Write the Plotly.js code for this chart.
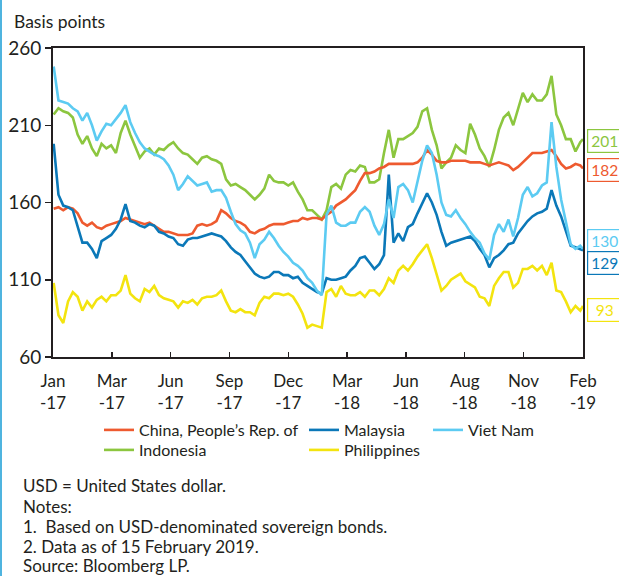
<!DOCTYPE html>
<html>
<head>
<meta charset="utf-8">
<script src="https://cdn.plot.ly/plotly-3.0.1.min.js"></script>
<style>
  html, body { margin: 0; padding: 0; background: #ffffff; }
  #chart { width: 619px; height: 576px; position: relative; }
  #edge { position: absolute; left: 0; top: 0; width: 2px; height: 576px; background: #4fb4df; z-index: 10; }
</style>
</head>
<body>
<div id="chart"></div>
<div id="edge"></div>
<script>
// ---------- data (weekly readings, basis points) ----------
const dates = [
"2017-01-02","2017-01-09","2017-01-16","2017-01-23","2017-01-30",
"2017-02-06","2017-02-13","2017-02-20","2017-02-27",
"2017-03-06","2017-03-13","2017-03-20","2017-03-27",
"2017-04-03","2017-04-10","2017-04-17","2017-04-24",
"2017-05-01","2017-05-08","2017-05-15","2017-05-22","2017-05-29",
"2017-06-05","2017-06-12","2017-06-19","2017-06-26",
"2017-07-03","2017-07-10","2017-07-17","2017-07-24","2017-07-31",
"2017-08-07","2017-08-14","2017-08-21","2017-08-28",
"2017-09-04","2017-09-11","2017-09-18","2017-09-25",
"2017-10-02","2017-10-09","2017-10-16","2017-10-23","2017-10-30",
"2017-11-06","2017-11-13","2017-11-20","2017-11-27",
"2017-12-04","2017-12-11","2017-12-18","2017-12-25",
"2018-01-01","2018-01-08","2018-01-15","2018-01-22","2018-01-29",
"2018-02-05","2018-02-12","2018-02-19","2018-02-26",
"2018-03-05","2018-03-12","2018-03-19","2018-03-26",
"2018-04-02","2018-04-09","2018-04-16","2018-04-23","2018-04-30",
"2018-05-07","2018-05-14","2018-05-21","2018-05-28",
"2018-06-04","2018-06-11","2018-06-18","2018-06-25",
"2018-07-02","2018-07-09","2018-07-16","2018-07-23","2018-07-30",
"2018-08-06","2018-08-13","2018-08-20","2018-08-27",
"2018-09-03","2018-09-10","2018-09-17","2018-09-24",
"2018-10-01","2018-10-08","2018-10-15","2018-10-22","2018-10-29",
"2018-11-05","2018-11-12","2018-11-19","2018-11-26",
"2018-12-03","2018-12-10","2018-12-17","2018-12-24","2018-12-31",
"2019-01-07","2019-01-14","2019-01-21","2019-01-28",
"2019-02-04","2019-02-11","2019-02-15"
];

const china = [
156,157,155,157,156,153,147,145,147,144,
143,145,146,147,148,150,149,148,147,146,
147,145,143,141,141,140,139,139,139,140,
145,146,145,146,148,155,153,150,148,147,
145,141,140,142,143,145,146,146,146,147,
148,148,150,149,150,150,149,152,154,158,
160,162,165,168,174,179,179,180,182,183,
185,185,185,185,185,185,186,189,194,191,
187,186,186,187,187,187,187,186,186,186,
185,184,185,186,185,184,181,183,186,189,
192,192,192,193,194,190,185,182,183,185,184,
182];

const malaysia = [
198,165,158,157,155,145,134,134,130,124,
135,137,139,143,149,159,148,147,145,144,
146,145,141,140,138,137,133,132,136,137,
137,138,139,140,139,138,135,131,128,126,
122,118,114,112,111,112,115,115,113,113,
111,112,108,106,104,102,101,111,110,110,
111,112,116,119,124,125,121,117,120,126,
178,134,140,135,144,146,153,159,166,160,
152,141,132,134,135,136,137,138,135,130,
126,118,124,126,129,133,134,140,144,148,
151,153,154,156,168,158,151,141,132,131,130,
129];

const vietNam = [
248,226,225,224,221,219,213,218,210,200,
206,211,210,214,218,223,212,205,199,195,
193,191,190,188,184,178,168,172,177,174,
171,172,173,167,168,168,163,154,146,142,
140,134,124,133,136,141,137,132,128,125,
121,119,116,111,108,103,100,152,158,147,
145,145,147,147,154,157,154,145,139,146,
162,150,170,172,168,160,173,187,197,192,
178,160,152,151,155,150,146,141,137,134,
127,123,139,146,141,149,138,150,165,170,
164,166,171,173,212,183,162,148,133,130,132,
130];

const indonesia = [
217,221,219,218,215,204,198,203,195,190,
198,195,197,192,205,213,204,196,189,193,
195,191,195,194,197,199,195,192,191,188,
185,189,190,188,187,185,175,171,172,170,
168,165,162,165,169,178,174,173,173,171,
173,167,162,155,155,152,149,155,170,172,
169,178,181,180,184,183,173,173,175,192,
207,189,201,201,203,205,209,219,221,207,
197,182,186,189,197,194,192,211,204,195,
190,183,194,207,215,218,210,220,231,225,
230,226,226,230,242,217,210,201,201,193,199,
201];

const philippines = [
108,87,82,96,102,99,90,96,92,97,
99,96,100,100,103,113,101,98,96,104,
102,106,100,98,97,96,92,96,95,97,
94,98,99,99,100,103,96,90,89,91,
89,89,87,95,99,98,101,101,100,101,
99,94,88,79,81,80,79,102,104,99,
106,101,100,100,102,99,103,103,100,104,
111,108,116,119,116,120,125,129,133,124,
113,103,106,110,112,114,109,107,105,99,
98,93,106,111,115,115,105,108,117,117,
119,116,119,113,121,103,102,96,89,93,90,
93];

const tickDates = ["2017-01-01","2017-03-28","2017-06-22","2017-09-16","2017-12-11",
                   "2018-03-07","2018-06-01","2018-08-26","2018-11-20","2019-02-15"];
const tickLabels = ["Jan<br>-17","Mar<br>-17","Jun<br>-17","Sep<br>-17","Dec<br>-17",
                    "Mar<br>-18","Jun<br>-18","Aug<br>-18","Nov<br>-18","Feb<br>-19"];
const yTicks = [60, 110, 160, 210, 260];

const seriesNames = ["China, People\u2019s Rep. of","Malaysia","Viet Nam","Indonesia","Philippines"];
const notes = ["USD = United States dollar.","Notes:","1.  Based on USD-denominated sovereign bonds.",
               "2. Data as of 15 February 2019.","Source: Bloomberg LP."];

// ---------- styling ----------
const FONT = 'Lato, "Open Sans", "DejaVu Sans", sans-serif';
const INK = '#231f20';
const COL = {china:'#ee5a2f', malaysia:'#0b78b8', viet:'#5ccbf2', indo:'#8cc63f', phil:'#f3e40f'};
const PLOT = {l:53, t:48, w:530, h:309};
const W = 619, H = 576;
const px2x = p => (p - PLOT.l) / PLOT.w;
const px2y = p => (PLOT.t + PLOT.h - p) / PLOT.h;

function line(y, name, color, legend) {
  return {x: dates, y: y, name: name, type: 'scatter', mode: 'lines',
          line: {color: color, width: 2.6}, legend: legend, hoverinfo: 'skip'};
}

const traces = [
  line(indonesia, seriesNames[3], COL.indo, 'legend4'),
  line(china, seriesNames[0], COL.china, 'legend'),
  line(philippines, seriesNames[4], COL.phil, 'legend5'),
  line(malaysia, seriesNames[1], COL.malaysia, 'legend2'),
  line(vietNam, seriesNames[2], COL.viet, 'legend3')
];

// end-value boxes
const endSeries = [
  {v: indonesia, c: COL.indo, pos: 199.7},
  {v: china, c: COL.china, pos: 180.9},
  {v: vietNam, c: COL.viet, pos: 135.3},
  {v: malaysia, c: COL.malaysia, pos: 121.1},
  {v: philippines, c: COL.phil, pos: 90.5}
];
const annotations = endSeries.map(s => ({
  xref: 'paper', yref: 'y', x: px2x(587), y: s.pos, xanchor: 'left', yanchor: 'middle',
  text: String(s.v[s.v.length - 1]), showarrow: false,
  font: {family: FONT, size: 15.5, color: s.c},
  bordercolor: s.c, borderwidth: 1.2, borderpad: 1.5, bgcolor: '#ffffff',
  width: 30, height: 19, align: 'center'
}));

annotations.push({
  xref: 'paper', yref: 'paper', x: px2x(12), y: px2y(22), xanchor: 'left', yanchor: 'middle',
  text: 'Basis points', showarrow: false, font: {family: FONT, size: 17.5, color: INK}
});

const noteY = [485, 506, 526, 546, 565];
notes.forEach((t, i) => annotations.push({
  xref: 'paper', yref: 'paper', x: px2x(21), y: px2y(noteY[i]), xanchor: 'left', yanchor: 'middle',
  text: t, showarrow: false, font: {family: FONT, size: 17, color: INK}
}));

function leg(xpx, ytop) {
  return {
    orientation: 'v', xanchor: 'left', yanchor: 'top', x: px2x(xpx), y: px2y(ytop),
    font: {family: FONT, size: 16, color: INK}, bgcolor: 'rgba(0,0,0,0)',
    borderwidth: 0, itemwidth: 30, tracegroupgap: 0
  };
}

const layout = {
  width: W, height: H,
  margin: {l: PLOT.l, r: W - PLOT.l - PLOT.w, t: PLOT.t, b: H - PLOT.t - PLOT.h, pad: 0},
  paper_bgcolor: '#ffffff', plot_bgcolor: '#ffffff',
  font: {family: FONT, color: INK},
  showlegend: true,
  legend: leg(99, 413),
  legend2: leg(304, 413),
  legend3: leg(428, 413),
  legend4: leg(99, 433),
  legend5: leg(304, 433),
  xaxis: {
    type: 'date', range: ['2017-01-01', '2019-02-15'],
    tickmode: 'array', tickvals: tickDates, ticktext: tickLabels,
    ticks: 'inside', ticklen: 5, tickwidth: 1.5, tickcolor: INK,
    showline: true, linecolor: INK, linewidth: 1.8, mirror: true,
    showgrid: false, zeroline: false, ticklabelstandoff: 8,
    tickfont: {family: FONT, size: 17, color: INK}
  },
  yaxis: {
    range: [60, 260], tickmode: 'array', tickvals: yTicks,
    ticks: 'outside', ticklen: 6, tickwidth: 1.5, tickcolor: INK,
    showline: true, linecolor: INK, linewidth: 1.8, mirror: true,
    showgrid: false, zeroline: false,
    tickfont: {family: FONT, size: 19, color: INK}
  },
  annotations: annotations
};

Plotly.newPlot('chart', traces, layout, {displayModeBar: false, staticPlot: true});
</script>
</body>
</html>
